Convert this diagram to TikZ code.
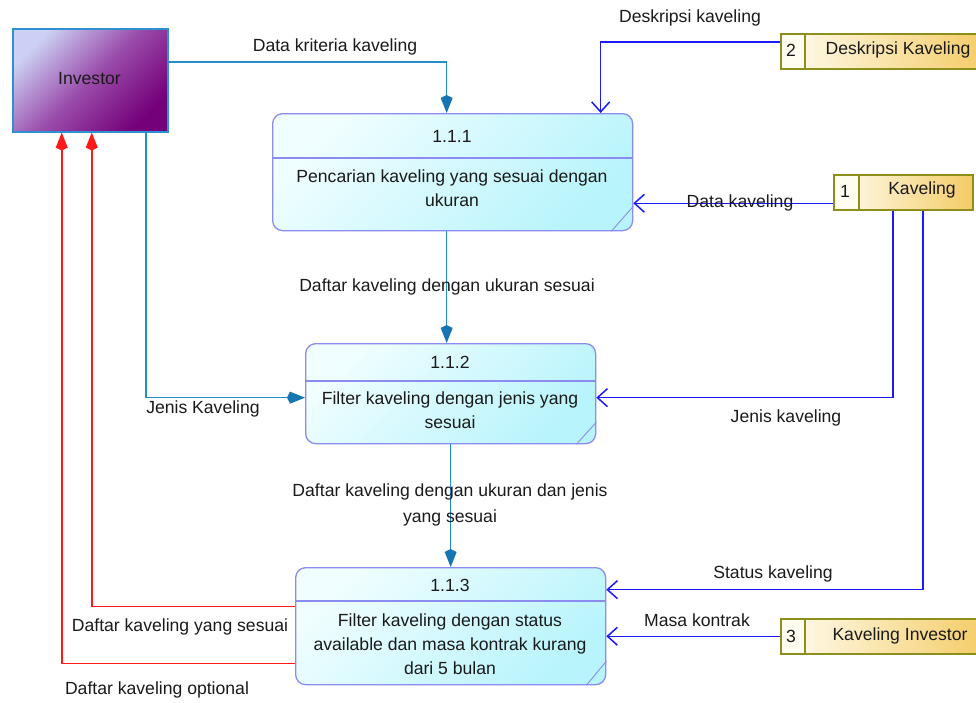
\documentclass[tikz,border=0pt]{standalone}
\usepackage{fontspec}
\setmainfont{Liberation Sans}
\usetikzlibrary{arrows.meta}
\definecolor{procborder}{HTML}{8C8CF0}
\definecolor{procA}{HTML}{F0FEFF}
\definecolor{procB}{HTML}{B8F4FC}
\definecolor{invborder}{HTML}{2F8FD0}
\definecolor{invA}{HTML}{CCD0F4}
\definecolor{invM}{HTML}{9A4CAA}
\definecolor{invB}{HTML}{74007A}
\definecolor{storeborder}{HTML}{8E8E1E}
\definecolor{storeA}{HTML}{FFFCF0}
\definecolor{storeB}{HTML}{F4CC66}
\definecolor{flowAc}{HTML}{2290C8}
\definecolor{flowAt}{HTML}{1676B4}
\definecolor{flowBc}{HTML}{1A1AFF}
\definecolor{flowRc}{HTML}{FF1A1A}
\definecolor{txt}{HTML}{1A1A1A}
\tikzset{
  every node/.style={font=\fontsize{17.6}{24}\selectfont, text=txt, inner sep=0pt},
  proc/.style={draw=procborder, line width=1.3pt, rounded corners=10pt,
    top color=procA, bottom color=procB, shading angle=45, anchor=north west},
  procline/.style={draw=procborder, line width=1.3pt},
  ext/.style={draw=invborder, line width=1.5pt, top color=invA, bottom color=invB,
    middle color=invM, shading angle=45, anchor=north west},
  store/.style={draw=storeborder, line width=1.5pt, left color=storeA, right color=storeB,
    anchor=north west, minimum height=35pt},
  storenum/.style={draw=storeborder, line width=1.5pt, fill=storeA, anchor=north west,
    minimum height=35pt, minimum width=24pt},
  flowA/.style={draw=flowAc, line width=1.5pt, -{Kite[length=18pt,width=12pt,inset=3pt,color=flowAt]}},
  flowB/.style={draw=flowBc, line width=1.5pt, -{Straight Barb[length=10pt,width=18pt,line width=1.5pt]}},
  flowR/.style={draw=flowRc, line width=1.5pt, -{Kite[length=18pt,width=12pt,inset=3pt]}},
  lbl/.style={align=center}
}
\begin{document}
\begin{tikzpicture}[x=1pt,y=-1pt]
\useasboundingbox (0,0) rectangle (976,702);
% external entity
\node[ext, minimum width=155pt, minimum height=103pt] (inv) at (12,28) {};
\node (invt) at (89.5,79) {Investor};
% processes
\node[proc, minimum width=360pt, minimum height=117pt] (p1) at (272,113) {};
\node[proc, minimum width=290pt, minimum height=100pt] (p2) at (305,343) {};
\node[proc, minimum width=310pt, minimum height=117pt] (p3) at (295,567) {};
\draw[procline] ([yshift=-45pt]p1.north west) -- ([yshift=-45pt]p1.north east);
\draw[procline] ([yshift=-38pt]p2.north west) -- ([yshift=-38pt]p2.north east);
\draw[procline] ([yshift=-34pt]p3.north west) -- ([yshift=-34pt]p3.north east);
\draw[procline, line width=0.9pt] ([xshift=-22pt]p1.south east) -- ([yshift=25pt]p1.south east);
\draw[procline, line width=0.9pt] ([xshift=-20pt]p2.south east) -- ([yshift=22pt]p2.south east);
\draw[procline, line width=0.9pt] ([xshift=-20pt]p3.south east) -- ([yshift=24pt]p3.south east);
\node (p1n) at (452,136) {1.1.1};
\node[lbl] (p1t) at (452,188) {Pencarian kaveling yang sesuai dengan\\ukuran};
\node (p2n) at (450,362) {1.1.2};
\node[lbl] (p2t) at (450,410) {Filter kaveling dengan jenis yang\\sesuai};
\node (p3n) at (450,585) {1.1.3};
\node[lbl] (p3t) at (450,644) {Filter kaveling dengan status\\available dan masa kontrak kurang\\dari 5 bulan};
% data stores
\node[store, minimum width=206pt] (s2) at (780,33) {};
\node[storenum] (s2n) at (780,33) {};
\node (s2i) at (791,50) {2};
\node (s2t) at (898,50) {Deskripsi Kaveling};
\node[store, minimum width=139pt] (s1) at (833,174) {};
\node[storenum, minimum width=25pt] (s1n) at (833,174) {};
\node (s1i) at (845,191) {1};
\node (s1t) at (922,190) {Kaveling};
\node[store, minimum width=206pt] (s3) at (780,618) {};
\node[storenum] (s3n) at (780,618) {};
\node (s3i) at (791,636) {3};
\node (s3t) at (900,636) {Kaveling Investor};
% flows
\draw[flowA] ([yshift=18.5pt]inv.east) -| ([xshift=-6pt]p1.north);
\draw[flowB] ([yshift=9.5pt]s2.west) -| ([xshift=148pt]p1.north);
\draw[flowB] ([yshift=-11pt]s1.west) -- ([yshift=-11pt]s1.west -| p1.east);
\draw[flowA] ([xshift=-6pt]p1.south) -- ([xshift=-6pt]p1.south |- p2.north);
\draw[flowA] ([xshift=55.5pt]inv.south) |- ([yshift=-4pt]p2.west);
\draw[flowB] ([xshift=-10.5pt]s1.south) |- ([yshift=-4pt]p2.east);
\draw[flowA] (p2.south) -- (p2.south |- p3.north);
\draw[flowB] ([xshift=19.5pt]s1.south) |- ([yshift=36.5pt]p3.east);
\draw[flowB] (s3.west) -- (s3.west -| p3.east);
\draw[flowR] ([yshift=19.5pt]p3.west) -| ([xshift=1.5pt]inv.south);
\draw[flowR] ([yshift=-37.5pt]p3.west) -| ([xshift=-28.5pt]inv.south);
% labels
\node (l1) at (335,47) {Data kriteria kaveling};
\node (l2) at (690,18) {Deskripsi kaveling};
\node (l3) at (740,203) {Data kaveling};
\node (l4) at (447,287) {Daftar kaveling dengan ukuran sesuai};
\node (l5) at (203,409) {Jenis Kaveling};
\node (l6) at (786,418) {Jenis kaveling};
\node[lbl, font=\fontsize{17.6}{26}\selectfont] (l7) at (450,505) {Daftar kaveling dengan ukuran dan jenis\\yang sesuai};
\node (l8) at (773,574) {Status kaveling};
\node (l9) at (697,620) {Masa kontrak};
\node (l10) at (180,627) {Daftar kaveling yang sesuai};
\node (l11) at (157,690) {Daftar kaveling optional};
\end{tikzpicture}
\end{document}
